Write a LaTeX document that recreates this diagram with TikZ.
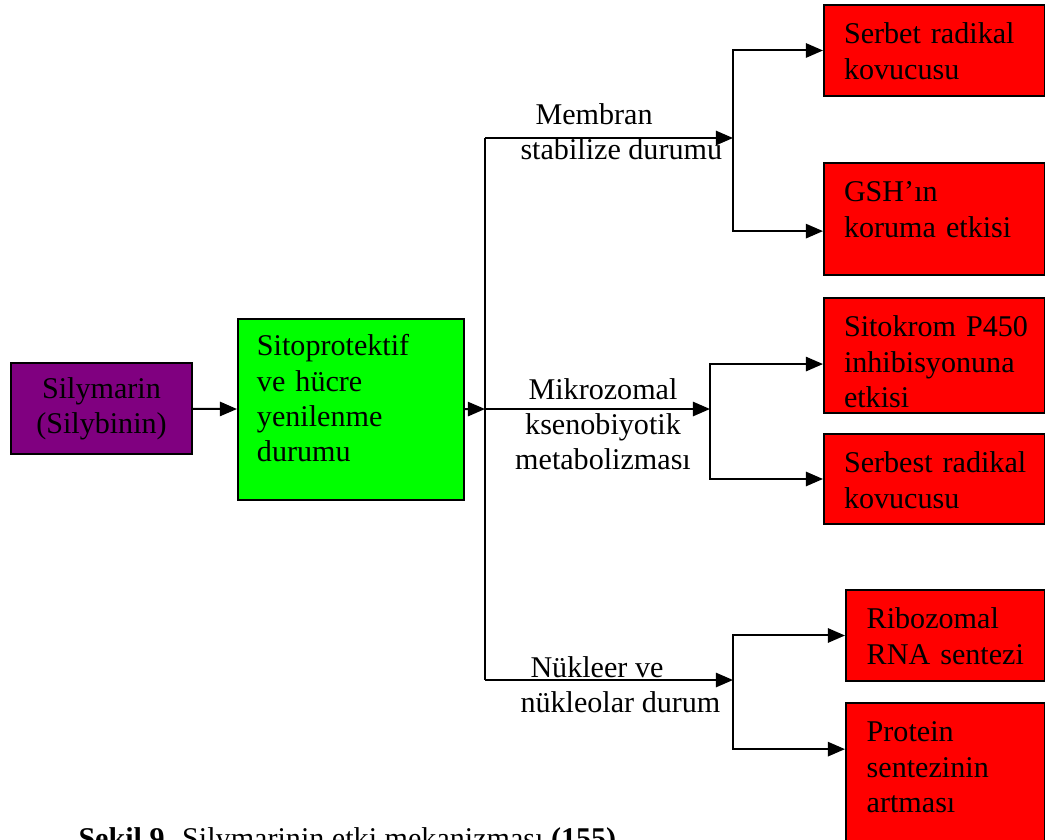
\documentclass[tikz,border=0pt]{standalone}
\usepackage{fontspec}
\setmainfont{Liberation Serif}
\usepackage{xcolor}
\usetikzlibrary{arrows.meta, positioning}

\definecolor{silpurple}{RGB}{128,0,128}
\definecolor{cytogreen}{RGB}{0,255,0}
\definecolor{effectred}{RGB}{255,0,0}

\begin{document}
\begin{tikzpicture}[x=0.014cm, y=-0.014cm,
  font=\fontsize{12}{14}\selectfont,
  box/.style={rectangle, draw, line width=0.8pt, inner ysep=0pt, align=left, anchor=north west},
  effect/.style={box, fill=effectred, text width=2.534cm, inner xsep=0.28cm, text height=0.546cm},
  effectnarrow/.style={box, fill=effectred, text width=2.206cm, inner xsep=0.29cm, text height=0.546cm},
  link/.style={line width=0.8pt},
  arrow/.style={link, -{Triangle[length=0.24cm, width=0.2cm]}}]
\useasboundingbox (0,0) rectangle (1045,839);
\clip (0,0) rectangle (1045,839);

% Source and cytoprotective state
\node[rectangle, draw, line width=0.8pt, fill=silpurple, minimum width=2.534cm, minimum height=1.274cm, align=center, inner sep=0pt] (sil) at (101.5,408.5) {Silymarin\\(Silybinin)};
\node[box, fill=cytogreen, text width=2.632cm, inner xsep=0.266cm, text height=0.518cm, text depth=2.016cm] (cyto) at (237,318) {Sitoprotektif\\ve hücre\\yenilenme\\durumu};

% Effects
\node[effect, text depth=0.728cm] (serbet) at (823,4) {Serbet~radikal\\kovucusu};
\node[effect, text depth=1.022cm] (gsh) at (823,162) {GSH’ın\\koruma~etkisi};
\node[effect, text depth=1.064cm] (sitokrom) at (823,297) {Sitokrom~P450\\inhibisyonuna\\etkisi};
\node[effect, text depth=0.714cm] (serbest) at (823,433) {Serbest~radikal\\kovucusu};
\node[effectnarrow, text depth=0.728cm] (ribo) at (845,589) {Ribozomal\\RNA~sentezi};
\node[effectnarrow, text depth=1.666cm] (protein) at (845,702) {Protein\\sentezinin\\artması};

% Branch labels
\node[anchor=north west, align=left, inner sep=0pt] (memlbl) at (520,103) {\hspace*{0.21cm}Membran\\stabilize durumu};
\node[anchor=north, align=center, inner sep=0pt] (miklbl) at (603,378) {Mikrozomal\\ksenobiyotik\\metabolizması};
\node[anchor=north west, align=left, inner sep=0pt] (nuklbl) at (520,656) {\hspace*{0.14cm}Nükleer ve\\nükleolar durum};

\coordinate (trunk) at (485,409);
\coordinate (ttop) at (485,138);
\coordinate (tbot) at (485,680);
\coordinate (jmem) at (733,138);
\coordinate (jmik) at (710,409);
\coordinate (jnuk) at (733,680);

\draw[arrow] (sil) -- (cyto);
\draw[arrow] (cyto) -- (trunk);
\draw[link] (ttop) -- (tbot);

\draw[arrow] (ttop) -- (jmem);
\draw[arrow] (jmem) |- (serbet);
\draw[arrow] (jmem) |- ([yshift=-0.17cm]gsh.west);

\draw[arrow] (trunk) -- (jmik);
\draw[arrow] (jmik) |- ([yshift=-0.12cm]sitokrom.west);
\draw[arrow] (jmik) |- (serbest);

\draw[arrow] (tbot) -- (jnuk);
\draw[arrow] (jnuk) |- (ribo);
\draw[arrow] (jnuk) |- ([yshift=0.46cm]protein.west);

% Caption
\node[anchor=base west, inner sep=0pt] (caption) at (78,848) {\textbf{Şekil 9.} Silymarinin etki mekanizması \textbf{(155)}};
\end{tikzpicture}
\end{document}
